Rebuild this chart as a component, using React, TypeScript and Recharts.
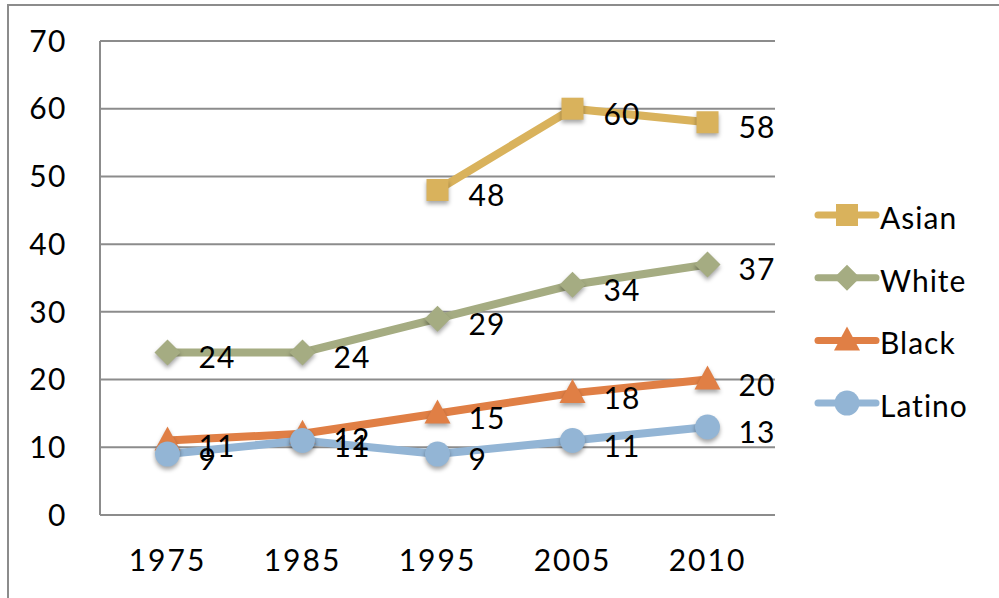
import { LineChart, Line, XAxis, YAxis, CartesianGrid, LabelList } from 'recharts';

const years = ['1975', '1985', '1995', '2005', '2010'];
const asian = [null, null, 48, 60, 58];
const white = [24, 24, 29, 34, 37];
const black = [11, 12, 15, 18, 20];
const latino = [9, 11, 9, 11, 13];
const yTicks = [0, 10, 20, 30, 40, 50, 60, 70];

const FONT = 'Lato, "Open Sans", sans-serif';
const GRID = '#8c8c8c';

const SERIES = [
  { key: 'Asian', values: asian, color: '#D9B25C', shape: 'square' },
  { key: 'White', values: white, color: '#A5AC82', shape: 'diamond' },
  { key: 'Black', values: black, color: '#E07F45', shape: 'triangle' },
  { key: 'Latino', values: latino, color: '#93B5D5', shape: 'circle' },
];

const data = years.map((year, i) => {
  const row: Record<string, string | number | null> = { year };
  SERIES.forEach((s) => {
    row[s.key] = s.values[i];
  });
  return row;
});

const shadow = 'drop-shadow(0px 3px 2px rgba(0,0,0,0.35))';

function Marker({ shape, cx, cy, color, shadowed = true }: any) {
  const style = shadowed ? { filter: shadow } : undefined;
  if (shape === 'square') {
    return <rect x={cx - 11} y={cy - 11} width={22} height={22} fill={color} style={style} />;
  }
  if (shape === 'diamond') {
    return (
      <polygon
        points={`${cx},${cy - 13} ${cx + 13},${cy} ${cx},${cy + 13} ${cx - 13},${cy}`}
        fill={color}
        style={style}
      />
    );
  }
  if (shape === 'triangle') {
    return (
      <polygon
        points={`${cx},${cy - 14} ${cx + 13},${cy + 10} ${cx - 13},${cy + 10}`}
        fill={color}
        style={style}
      />
    );
  }
  return <circle cx={cx} cy={cy} r={12.5} fill={color} style={style} />;
}

function makeDot(shape: string, color: string) {
  return (props: any) => {
    const { cx, cy, value, index } = props;
    if (value == null || cx == null || cy == null) return <g key={`d-${index}`} />;
    return (
      <g key={`d-${index}`}>
        <Marker shape={shape} cx={cx} cy={cy} color={color} />
      </g>
    );
  };
}

function ValueLabel(props: any) {
  const { x, y, value } = props;
  if (value == null) return null;
  return (
    <text
      x={x + 31}
      y={y + 4}
      fontFamily={FONT}
      fontSize={30}
      letterSpacing={1}
      fill="#000"
      dominantBaseline="central"
      textAnchor="start"
    >
      {value}
    </text>
  );
}

// legend drawn beside the plot, same markers as the series
function LegendBox() {
  return (
    <svg width={180} height={250} style={{ position: 'absolute', left: 814, top: 195 }}>
      {SERIES.map((s, i) => {
        const cy = 20 + i * 62.7;
        return (
          <g key={s.key}>
            <line x1={4} x2={62} y1={cy} y2={cy} stroke={s.color} strokeWidth={7} strokeLinecap="round" />
            <Marker shape={s.shape} cx={33} cy={cy} color={s.color} shadowed={false} />
            <text
              x={66}
              y={cy + 2}
              fontFamily={FONT}
              fontSize={30}
              letterSpacing={1}
              fill="#000"
              dominantBaseline="central"
            >
              {s.key}
            </text>
          </g>
        );
      })}
    </svg>
  );
}

export default function App() {
  return (
    <div style={{ position: 'absolute', left: 0, top: 0, width: 999, height: 598, background: '#fff', overflow: 'hidden' }}>
      <div
        style={{
          position: 'absolute',
          left: 7,
          top: 4,
          width: 1010,
          height: 620,
          border: `2.5px solid ${GRID}`,
          boxSizing: 'border-box',
        }}
      />
      <LineChart
        width={999}
        height={598}
        data={data}
        margin={{ top: 41, right: 224, left: 0, bottom: 0 }}
        style={{ position: 'absolute', left: 0, top: 0 }}
      >
        <CartesianGrid vertical={false} stroke={GRID} strokeWidth={2} />
        <XAxis
          dataKey="year"
          height={83}
          padding={{ left: 67.5, right: 67.5 }}
          axisLine={{ stroke: GRID, strokeWidth: 2 }}
          tickLine={false}
          tickSize={0}
          tickMargin={35}
          tick={{ fontFamily: FONT, fontSize: 30, fill: '#000', letterSpacing: 2 }}
        />
        <YAxis
          width={100}
          domain={[0, 70]}
          ticks={yTicks}
          interval={0}
          axisLine={{ stroke: GRID, strokeWidth: 2 }}
          tickLine={false}
          tickSize={0}
          tickMargin={33}
          tick={{ fontFamily: FONT, fontSize: 30, fill: '#000', letterSpacing: 1.5 }}
        />
        {SERIES.map((s) => (
          <Line
            key={s.key}
            type="linear"
            dataKey={s.key}
            stroke={s.color}
            strokeWidth={8}
            dot={makeDot(s.shape, s.color)}
            activeDot={false}
            isAnimationActive={false}
          >
            <LabelList dataKey={s.key} content={<ValueLabel />} />
          </Line>
        ))}
      </LineChart>
      <LegendBox />
    </div>
  );
}
